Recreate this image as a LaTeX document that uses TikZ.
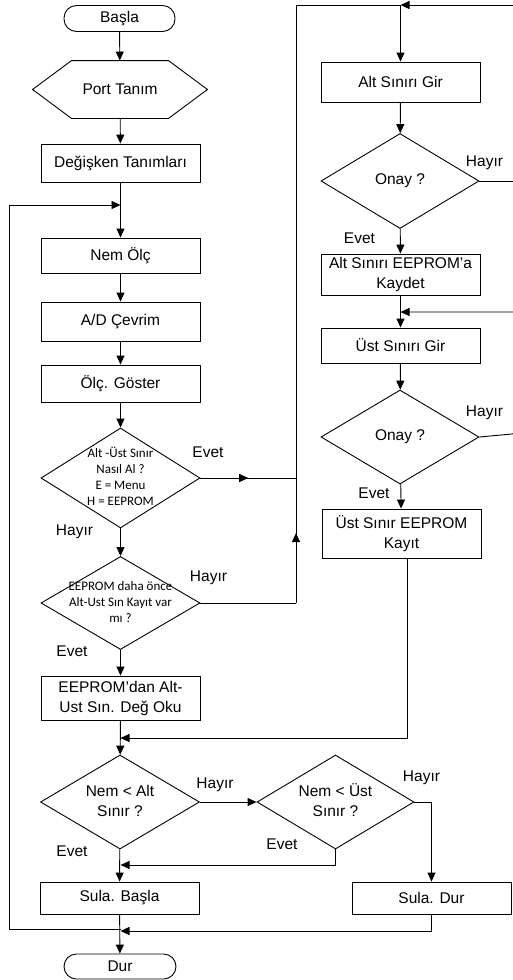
\documentclass[tikz,border=0pt]{standalone}
\usepackage{fontspec}
\setmainfont{Liberation Sans}
\newfontfamily\calfont{Carlito}
\usetikzlibrary{arrows.meta,shapes.geometric,decorations.markings}

\tikzset{
  every node/.style={font=\fontsize{15.5}{20}\selectfont},
  blk/.style={draw, rectangle, minimum width=159pt, align=center, inner sep=1pt},
  term/.style={draw, rectangle, rounded corners=12.5pt, minimum width=111pt, minimum height=26pt},
  dec/.style={draw, diamond, aspect=1.6, minimum width=159pt, inner sep=0pt},
  cal/.style={font=\calfont\fontsize{13}{16}\selectfont},
  midarr/.style={postaction={decorate}, decoration={markings, mark=at position #1 with {\arrow{>}}}},
  midarr/.default=0.5
}
\newcommand{\dtext}[1]{\smash{\raisebox{-.25em}{\begin{tabular}{@{}c@{}}#1\end{tabular}}}}

\begin{document}
\begin{tikzpicture}[x=1pt, y=-1pt, line width=0.9pt, >={Triangle[length=9pt,width=8pt]}]
                \useasboundingbox (0,0) rectangle (513,980);

                \node[term] (start) at (119.5,18.5) {Başla};
                \node[minimum width=174pt, minimum height=57pt] (port) at (120,89.5) {Port Tanım};
                \draw (port.west) -- ([xshift=39pt]port.north west) -- ([xshift=-39pt]port.north east) -- (port.east) -- ([xshift=-39pt]port.south east) -- ([xshift=39pt]port.south west) -- cycle;
                \node[blk, minimum height=38pt] (degisken) at (120.5,163) {Değişken Tanımları};
                \node[blk, minimum height=35pt] (nemolc) at (120.5,255.5) {Nem Ölç};
                \node[blk, minimum height=39pt] (adcevrim) at (120.5,321.5) {A/D Çevrim};
                \node[blk, minimum height=37pt] (goster) at (120.5,383.5) {Ölç. Göster};
                \node[dec, cal, minimum height=100pt] (secim) at (120.5,478) {\dtext{Alt -Üst Sınır\\Nasıl Al ?\\E = Menu\\H = EEPROM}};
                \node[dec, cal, minimum height=93pt] (kayitvar) at (120.5,603) {\dtext{EEPROM daha önce\\Alt-Ust Sın Kayıt var\\mı ?}};
                \node[blk, minimum height=44pt] (oku) at (120.5,698) {EEPROM’dan Alt-\\Ust Sın. Değ Oku};
                \node[dec, minimum height=94pt] (altkontrol) at (120,802) {\dtext{Nem < Alt\\Sınır ?}};
                \node[dec, minimum width=157pt, minimum height=94pt] (ustkontrol) at (335.5,802) {\dtext{Nem < Üst\\Sınır ?}};
                \node[blk, minimum height=32pt] (sulabasla) at (119.5,898) {Sula. Başla};
                \node[blk, minimum height=32pt] (suladur) at (431.5,898) {Sula. Dur};
                \node[term, minimum width=112pt, minimum height=25pt] (stop) at (120,966.5) {Dur};

                \node[blk, minimum height=40pt] (altgir) at (400.5,82) {Alt Sınırı Gir};
                \node[dec, minimum width=158pt, minimum height=95pt] (onay1) at (400,181) {Onay ?};
                \node[blk, minimum height=41pt] (altkaydet) at (400.5,274.5) {Alt Sınırı EEPROM’a\\Kaydet};
                \node[blk, minimum height=35pt] (ustgir) at (400.5,345.5) {Üst Sınırı Gir};
                \node[dec, minimum width=158pt, minimum height=94pt] (onay2) at (400,437) {Onay ?};
                \node[blk, minimum height=49pt] (ustkayit) at (401.5,533.5) {Üst Sınır EEPROM\\Kayıt};

                \node (e1) at (208,452) {Evet};
                \node (h1) at (74.5,532) {Hayır};
                \node (h2) at (208.5,578) {Hayır};
                \node (e2) at (72,651) {Evet};
                \node (h3) at (484.5,163) {Hayır};
                \node (e3) at (359.5,238) {Evet};
                \node (h4) at (484.5,413) {Hayır};
                \node (e4) at (374,493) {Evet};
                \node (h5) at (215,785) {Hayır};
                \node (h6) at (421.5,778) {Hayır};
                \node (e5) at (282,844) {Evet};
                \node (e6) at (72,851) {Evet};

                \coordinate (lp1) at (120.5,205);
                \coordinate (lp) at (9,929);
                \coordinate (lp4) at (120.5,929);
                \coordinate (jr1) at (296,478);
                \coordinate (jr2) at (296,603);
                \coordinate (top) at (400.5,5);
                \coordinate (edge1) at (517,5);
                \coordinate (m1) at (400.5,312);
                \coordinate (edge2) at (517,433.5);
                \coordinate (uk) at (407,738);
                \coordinate (m2) at (120.5,738);
                \coordinate (m3) at (120.5,865);
                \coordinate (m4) at (120.5,931);

                \draw[->] (start) -- (port); \draw[->] (port) -- (degisken); \draw[->] (degisken) -- (nemolc); \draw[->] (nemolc) -- (adcevrim); \draw[->] (adcevrim) -- (goster);
                \draw[->] (goster) -- (secim); \draw[->] (secim) -- (kayitvar); \draw[->] (kayitvar) -- (oku); \draw[->] (oku) -- (altkontrol); \draw[->] (altkontrol) -- (sulabasla); \draw[->] (sulabasla) -- (stop);
                \draw[->] (lp4) -- (lp) |- (lp1);
                \draw[midarr] (secim.east) -- (jr1); \draw (kayitvar.east) -- (jr2); \draw[midarr=0.56] (jr2) -- (jr1); \draw (jr1) |- (top);
                \draw[->] (top) -- (altgir); \draw[->] (altgir) -- (onay1); \draw[->] (onay1) -- (altkaydet); \draw[->] (altkaydet) -- (ustgir); \draw[->] (ustgir) -- (onay2); \draw[->] (onay2) -- (ustkayit);
                \draw[->] (onay1.east) -| (edge1) -- (top); \draw[->] (onay2.east) -- (edge2) |- (m1);
                \draw[->] (ustkayit.south -| uk) -- (uk) -- (m2);
                \draw[->] (altkontrol.east) -- (ustkontrol.west); \draw[->] (ustkontrol.south) |- (m3); \draw[->] (ustkontrol.east) -| (suladur.north); \draw[->] (suladur.south) |- (m4);
\end{tikzpicture}
\end{document}
